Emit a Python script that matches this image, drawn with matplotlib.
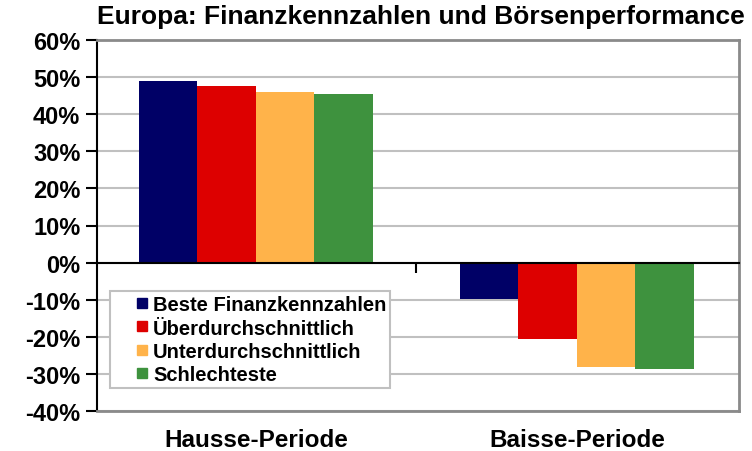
import matplotlib.pyplot as plt
from matplotlib.lines import Line2D
import numpy as np

plt.rcParams['font.family'] = ['Liberation Sans', 'DejaVu Sans']
plt.rcParams['font.weight'] = 'bold'

# data
periods = ['Hausse-Periode', 'Baisse-Periode']
groups = ['Beste Finanzkennzahlen', 'Überdurchschnittlich',
          'Unterdurchschnittlich', 'Schlechteste']
values = [
    [49.0, -9.8],   # Beste Finanzkennzahlen
    [47.5, -20.5],  # Überdurchschnittlich
    [46.0, -28.1],  # Unterdurchschnittlich
    [45.5, -28.6],  # Schlechteste
]
colors = ['#000066', '#DD0000', '#FFB34A', '#3E923E']
yticks = list(range(-40, 70, 10))

fig = plt.figure(figsize=(7.52, 4.52), dpi=100)
ax = fig.add_axes([97 / 752, 40 / 452, 642 / 752, 371 / 452])

x = np.arange(len(periods))
width = 0.182
for i, (name, vals) in enumerate(zip(groups, values)):
    ax.bar(x + (i - 1.5) * width, vals, width, color=colors[i], label=name,
           zorder=2)

ax.set_xlim(-0.495, 1.505)
ax.set_ylim(-40, 60)
ax.set_yticks(yticks)
ax.set_yticklabels(['{}%'.format(v) for v in yticks], fontsize=17,
                   fontweight='bold')
ax.set_xticks(x)
ax.set_xticklabels(periods, fontsize=17.5, fontweight='bold')
ax.tick_params(axis='x', length=0, pad=12)
ax.tick_params(axis='y', direction='out', length=8, width=1.5, pad=4)

ax.grid(axis='y', color='#c0c0c0', linewidth=1.5, zorder=0)
ax.set_axisbelow(True)

for side in ['top', 'right', 'bottom']:
    ax.spines[side].set_color('#8a8a8a')
    ax.spines[side].set_linewidth(2)
ax.spines['left'].set_linewidth(1.5)

# zero line with the category separator tick
zero = ax.secondary_xaxis(0.4)
zero.set_xticks([0.5])
zero.set_xticklabels([''])
zero.tick_params(direction='out', length=7, width=1.5)
zero.spines['bottom'].set_linewidth(1.5)
zero.set_zorder(3)

# small square legend keys
handles = [Line2D([], [], linestyle='none', marker='s', markersize=7,
                  markerfacecolor=c, markeredgecolor=c) for c in colors]
leg = ax.legend(handles, groups, loc='lower left',
                bbox_to_anchor=(0.02, 0.062),
                prop={'weight': 'bold', 'size': 14.5},
                handlelength=2.78, handletextpad=-0.84,
                labelspacing=0.21, borderpad=0.2, borderaxespad=0,
                fancybox=False, framealpha=1, edgecolor='#c0c0c0')
leg.get_frame().set_linewidth(1.5)

fig.text(421 / 752, 1 - 17 / 452,
         'Europa: Finanzkennzahlen und Börsenperformance',
         ha='center', va='center', fontsize=19, fontweight='bold')

fig.savefig('out.png', dpi=100)
